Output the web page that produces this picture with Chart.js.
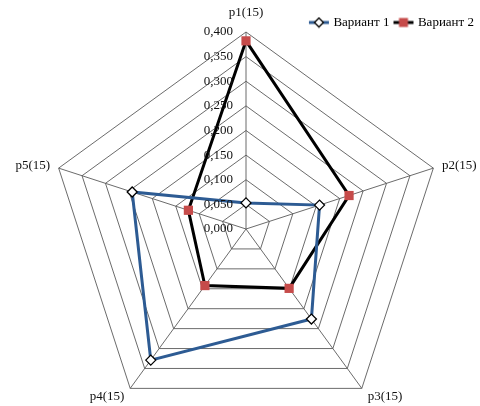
<!DOCTYPE html>
<html>
<head>
<meta charset="utf-8">
<script src="https://cdn.jsdelivr.net/npm/chart.js@4/dist/chart.umd.min.js"></script>
<style>
  html, body { margin: 0; padding: 0; background: #fff; overflow: hidden; }
  #wrap { position: relative; width: 480px; height: 426px; }
</style>
</head>
<body>
<div id="wrap"><canvas id="myChart"></canvas></div>
<script>
// data
var categories = ["p1(15)", "p2(15)", "p3(15)", "p4(15)", "p5(15)"];
var variant1 = [0.053, 0.157, 0.226, 0.329, 0.243];
var variant2 = [0.382, 0.220, 0.149, 0.142, 0.123];
var seriesNames = ["Вариант 1", "Вариант 2"];
var tickValues = [0, 0.05, 0.1, 0.15, 0.2, 0.25, 0.3, 0.35, 0.4];

var serif = "'Liberation Serif', 'Times New Roman', serif";
var blue = "#2d5b93";
var red = "#c64b4a";

//legend icons: line with marker in the middle
function legendIcon(lineColor, drawMarker) {
  var c = document.createElement("canvas");
  c.width = 22; c.height = 12;
  var g = c.getContext("2d");
  g.strokeStyle = lineColor;
  g.lineWidth = 3;
  g.beginPath(); g.moveTo(1, 6); g.lineTo(21, 6); g.stroke();
  drawMarker(g);
  return c;
}
var icon1 = legendIcon(blue, function(g) {
  g.beginPath();
  g.moveTo(11, 1.5); g.lineTo(15.5, 6); g.lineTo(11, 10.5); g.lineTo(6.5, 6); g.closePath();
  g.fillStyle = "#fff"; g.fill();
  g.lineWidth = 1.3; g.strokeStyle = "#000"; g.stroke();
});
var icon2 = legendIcon("#000", function(g) {
  g.fillStyle = red;
  g.fillRect(6.5, 1.5, 9, 9);
});

function fmt(v) {
  return v.toFixed(3).replace(".", ",");
}

//tick labels + point labels drawn from the scale
var labelsPlugin = {
  id: "radarText",
  afterDatasetsDraw: function(chart) {
    var s = chart.scales.r;
    var ctx = chart.ctx;
    ctx.save();
    ctx.fillStyle = "#111";
    ctx.font = "13px " + serif;
    ctx.textAlign = "right";
    ctx.textBaseline = "middle";
    tickValues.forEach(function(v) {
      var d = s.getDistanceFromCenterForValue(v);
      ctx.fillText(fmt(v), s.xCenter - 13, s.yCenter - d);
    });
    var aligns = ["center", "left", "left", "right", "right"];
    var extra = [19, 9, 10, 10, 9];
    categories.forEach(function(name, i) {
      var p = s.getPointPosition(i, s.drawingArea + extra[i]);
      ctx.textAlign = aligns[i];
      ctx.fillText(name, p.x, p.y);
    });
    ctx.restore();
  }
};

var ctx = document.getElementById("myChart").getContext("2d");
var chart = new Chart(ctx, {
  type: "radar",
  data: {
    labels: categories,
    datasets: [{
        label: seriesNames[0],
        data: variant1,
        borderColor: blue,
        borderWidth: 3,
        fill: false,
        tension: 0,
        pointStyle: "rectRot",
        pointRadius: 5,
        pointHoverRadius: 5,
        pointBackgroundColor: "#fff",
        pointBorderColor: "#000",
        pointBorderWidth: 1.3
      },
      {
        label: seriesNames[1],
        data: variant2,
        borderColor: "#000",
        borderWidth: 3,
        fill: false,
        tension: 0,
        pointStyle: "rect",
        pointRadius: 6.5,
        pointHoverRadius: 6.5,
        pointBackgroundColor: red,
        pointBorderColor: red,
        pointBorderWidth: 0
      }
    ]
  },
  options: {
    responsive: true,
    maintainAspectRatio: false,
    animation: false,
    layout: { padding: { top: 10, left: 12, right: 0, bottom: 0 } },
    plugins: {
      tooltip: { enabled: false },
      legend: {
        position: "top",
        align: "end",
        maxHeight: 22,
        labels: {
          usePointStyle: true,
          pointStyleWidth: 16,
          padding: 6,
          color: "#111",
          font: { family: serif, size: 13 },
          generateLabels: function(ch) {
            return seriesNames.map(function(n, i) {
              return {
                text: n,
                pointStyle: i === 0 ? icon1 : icon2,
                datasetIndex: i,
                fillStyle: "#fff",
                strokeStyle: "#fff",
                lineWidth: 0,
                hidden: false
              };
            });
          }
        }
      }
    },
    scales: {
      r: {
        min: 0,
        max: 0.4,
        beginAtZero: true,
        ticks: { display: false, stepSize: 0.05 },
        pointLabels: { display: false },
        grid: { color: "#5a5a5a", lineWidth: 0.9 },
        angleLines: { color: "#5a5a5a", lineWidth: 0.9 }
      }
    }
  },
  plugins: [labelsPlugin]
});
</script>
</body>
</html>
